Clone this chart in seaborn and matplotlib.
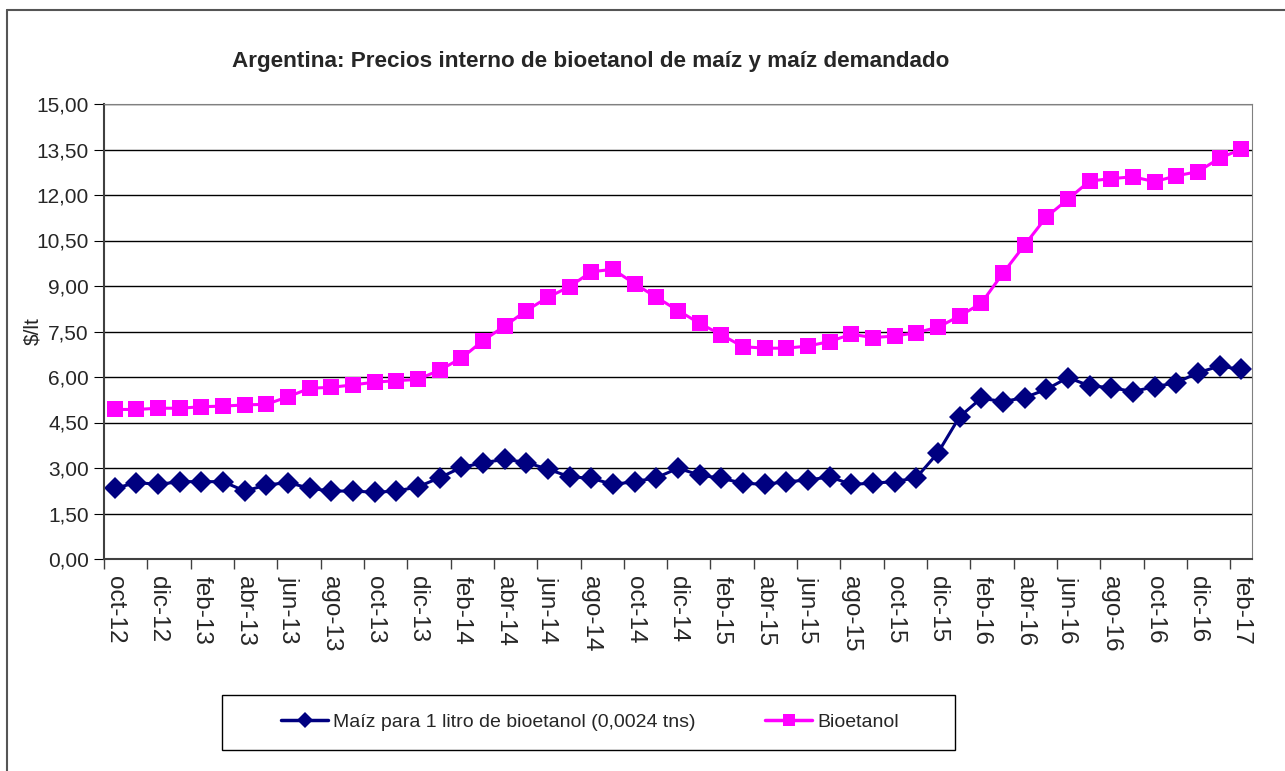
import numpy as np
import pandas as pd
import seaborn as sns
import matplotlib
matplotlib.use("Agg")
import matplotlib.pyplot as plt
from matplotlib.lines import Line2D
from matplotlib.patches import Rectangle
from matplotlib.ticker import FuncFormatter, FixedLocator

# monthly series oct-12 .. feb-17
meses = ["ene", "feb", "mar", "abr", "may", "jun", "jul", "ago", "sep", "oct", "nov", "dic"]
periodos = [f"{meses[(9 + i) % 12]}-{12 + (9 + i) // 12}" for i in range(53)]

maiz = [2.33, 2.52, 2.46, 2.55, 2.55, 2.55, 2.24, 2.44, 2.52, 2.33,
        2.24, 2.24, 2.20, 2.24, 2.38, 2.68, 3.02, 3.17, 3.29, 3.18,
        2.96, 2.71, 2.66, 2.46, 2.55, 2.68, 2.99, 2.77, 2.66, 2.50,
        2.46, 2.55, 2.60, 2.71, 2.46, 2.50, 2.55, 2.68, 3.50, 4.69,
        5.30, 5.19, 5.32, 5.59, 5.98, 5.71, 5.65, 5.52, 5.68, 5.81,
        6.14, 6.36, 6.25]

bioetanol = [4.93, 4.93, 4.97, 4.97, 5.02, 5.04, 5.08, 5.10, 5.35, 5.63,
             5.66, 5.74, 5.83, 5.88, 5.92, 6.23, 6.62, 7.20, 7.68, 8.19,
             8.63, 8.98, 9.47, 9.55, 9.07, 8.63, 8.19, 7.77, 7.39, 7.00,
             6.95, 6.95, 7.02, 7.17, 7.41, 7.30, 7.35, 7.46, 7.64, 8.01,
             8.43, 9.42, 10.35, 11.27, 11.86, 12.46, 12.54, 12.60, 12.44, 12.63,
             12.77, 13.21, 13.51]

lbl_maiz = "Maíz para 1 litro de bioetanol (0,0024 tns)"
lbl_bio = "Bioetanol"

df = pd.DataFrame({
    "idx": list(range(len(periodos))) * 2,
    "valor": maiz + bioetanol,
    "serie": [lbl_maiz] * len(maiz) + [lbl_bio] * len(bioetanol),
})

sns.set_style("white")
plt.rcParams["font.family"] = ["Liberation Sans", "DejaVu Sans"]

W, H = 1285, 771
fig = plt.figure(figsize=(W / 100, H / 100), dpi=100)
ax = fig.add_axes([104 / W, 1 - 559 / H, (1252 - 104) / W, (559 - 104) / H])

colores = {lbl_maiz: "#000080", lbl_bio: "#FF00FF"}
sns.lineplot(data=df, x="idx", y="valor", hue="serie", style="serie",
             palette=colores, markers={lbl_maiz: "D", lbl_bio: "s"},
             dashes=False, linewidth=2.2, markersize=11, markeredgewidth=0,
             legend=False, ax=ax)

ax.set_xlim(-0.5, len(periodos) - 0.5)
ax.set_ylim(0, 15)
ax.set_yticks(np.arange(0, 15.01, 1.5))
ax.yaxis.set_major_formatter(FuncFormatter(lambda v, p: f"{v:.2f}".replace(".", ",")))
ax.yaxis.grid(True, color="black", linewidth=1)
ax.set_axisbelow(True)

ax.set_xticks(range(0, len(periodos), 2))
ax.set_xticklabels(periodos[::2], rotation=270)
ax.xaxis.set_minor_locator(FixedLocator(np.arange(-0.5, len(periodos), 2)))
ax.tick_params(axis="x", which="major", length=0, labelsize=17.5, pad=12)
ax.tick_params(axis="x", which="minor", length=7, color="#404040", width=1, bottom=True)
ax.tick_params(axis="y", length=7, color="black", labelsize=15, left=True, pad=4)

ax.set_xlabel("")
ax.set_ylabel("$/lt", fontsize=15)
ax.yaxis.set_label_coords((42 - 104) / (1252 - 104), 0.5)

for s in ["top", "right"]:
    ax.spines[s].set_color("#808080")
for s in ["left", "bottom"]:
    ax.spines[s].set_color("#404040")
    ax.spines[s].set_linewidth(1.5)

fig.text(591 / W, 1 - 62 / H, "Argentina: Precios interno de bioetanol de maíz y maíz demandado",
         ha="center", va="center", fontsize=16.2, fontweight="bold")

# legend box
fig.add_artist(Rectangle((222 / W, 1 - 750 / H), (955 - 222) / W, (750 - 695) / H,
                         transform=fig.transFigure, facecolor="white",
                         edgecolor="black", linewidth=1))
handles = [
    Line2D([], [], color="#000080", marker="D", markersize=8, linewidth=2.5, markeredgewidth=0),
    Line2D([], [], color="#FF00FF", marker="s", markersize=9, linewidth=2.5, markeredgewidth=0),
]
leg = fig.legend(handles, [lbl_maiz, lbl_bio], loc="center",
                 bbox_to_anchor=(590 / W, 1 - 722 / H), ncol=2, fontsize=14,
                 frameon=False, handlelength=2.4, handletextpad=0.25,
                 columnspacing=3.6, borderpad=0, borderaxespad=0)

# outer chart border (left and top edges visible)
fig.add_artist(Line2D([7 / W, 7 / W], [0, 1 - 10 / H], color="#555555", linewidth=1.5))
fig.add_artist(Line2D([7 / W, 1], [1 - 10 / H, 1 - 10 / H], color="#555555", linewidth=1.5))

fig.savefig("out.png", dpi=100)
